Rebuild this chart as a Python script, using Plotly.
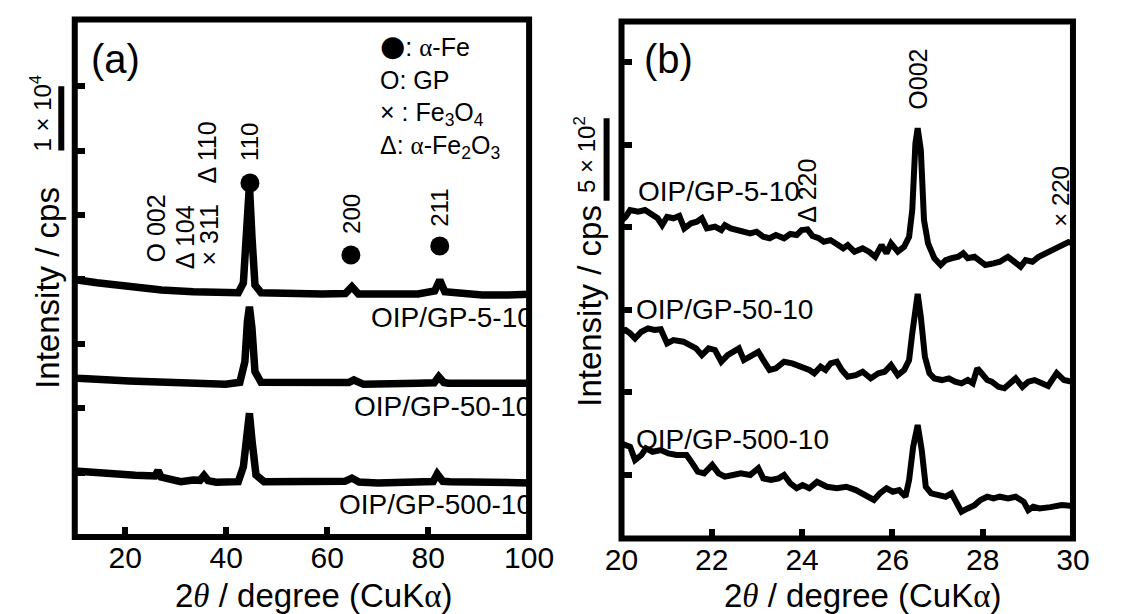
import plotly.graph_objects as go

# ---------------- (a) wide-angle XRD patterns, 2theta 10-100 deg ----------------
a_x_5_10 = [10, 10.6, 14.4, 20.8, 27.2, 33.5, 39.9, 42.4, 43.4, 44.0, 44.6, 45.1, 45.7, 46.9,
            52.6, 59.0, 63.6, 64.9, 66.2, 71.7, 78.0, 81.3, 82.3, 83.3, 90.7, 95.8, 100]
a_y_5_10 = [40060, 39910, 39490, 38870, 38350, 38090, 37840, 37940, 39440, 46630, 54660, 46630, 39130, 37940,
            37730, 37730, 37800, 38870, 37730, 37690, 37730, 38200, 39910, 38100, 37580, 37580, 37700]

a_x_50_10 = [10, 10.6, 20.8, 30.3, 39.9, 42.7, 43.7, 44.2, 44.6, 45.1, 45.7, 46.9, 55.8, 63.4,
             64.3, 65.3, 66.3, 67.2, 78.0, 81.2, 82.1, 83.1, 84.0, 95.8, 100]
a_y_50_10 = [24690, 24640, 24220, 23870, 23710, 24020, 27220, 33430, 35760, 32450, 25670, 24020, 23870, 24020,
             24000, 24380, 23900, 23710, 23870, 23950, 24890, 24000, 23870, 23870, 23870]

a_x_500_10 = [10, 12, 17.6, 22, 25.9, 26.5, 27.1, 29, 31.0, 33.5, 34.8, 35.6, 36.4, 38, 41, 42.4,
              43.4, 44.0, 44.6, 45.1, 45.9, 47.5, 52, 58, 63.5, 64.9, 66.3, 70, 76, 81.0, 81.8,
              82.9, 84.4, 90, 95.8, 100]
a_y_500_10 = [10250, 10100, 9780, 9600, 9470, 10330, 9300, 9000, 8590, 8850, 8800, 9550, 8750, 8500, 8600, 8590,
              10920, 16100, 19210, 15060, 9630, 8590, 8650, 8700, 8650, 9150, 8550, 8400, 8550, 8600, 9780,
              8650, 8590, 8450, 8340, 8400]

# alpha-Fe reflections marked with filled circles
fe_peak_x = [44.7, 64.7, 82.3]
fe_peak_y = [54970, 43790, 45190]
fe_peak_hkl = ["110", "200", "211"]
fe_label_y = [61340, 50150, 51090]

# ---------------- (b) GP 002 region, 2theta 20-30 deg ----------------
b_x_5_10 = [20.0, 20.09, 20.19, 20.37, 20.52, 20.66, 20.80, 20.90, 21.01, 21.15, 21.28, 21.39, 21.54, 21.67,
            21.78, 21.89, 22.07, 22.21, 22.29, 22.42, 22.64, 22.85, 22.99, 23.14, 23.28, 23.42, 23.60, 23.74,
            23.88, 23.99, 24.12, 24.23, 24.37, 24.48, 24.63, 24.77, 24.91, 25.01, 25.16, 25.34, 25.48, 25.62,
            25.76, 25.87, 25.97, 26.12, 26.26, 26.37, 26.44, 26.51, 26.56, 26.63, 26.70, 26.79, 26.93, 27.07,
            27.18, 27.31, 27.46, 27.57, 27.67, 27.82, 27.95, 28.06, 28.24, 28.38, 28.56, 28.70, 28.84, 28.95,
            29.10, 29.24, 29.45, 29.70, 29.90, 30.0]
b_y_5_10 = [2040, 2063, 2104, 2094, 2104, 2074, 2054, 2013, 2063, 2054, 2068, 1993, 2024, 2033,
            2054, 1993, 2003, 1983, 2013, 1993, 1979, 1963, 1973, 1942, 1933, 1953, 1933, 1959,
            1953, 1983, 1987, 1947, 1933, 1912, 1922, 1902, 1872, 1892, 1852, 1872, 1852, 1821,
            1892, 1842, 1902, 1852, 1882, 1942, 2104, 2508, 2600, 2467, 2044, 1902, 1812, 1771,
            1801, 1812, 1821, 1842, 1812, 1821, 1791, 1771, 1781, 1791, 1821, 1791, 1761, 1801,
            1791, 1821, 1850, 1880, 1910, 1904]

b_x_50_10 = [20.0, 20.09, 20.19, 20.30, 20.44, 20.59, 20.73, 20.87, 21.01, 21.15, 21.37, 21.50, 21.65, 21.78,
             21.93, 22.07, 22.21, 22.35, 22.50, 22.60, 22.71, 22.85, 23.03, 23.14, 23.28, 23.42, 23.60, 23.78,
             23.99, 24.16, 24.27, 24.41, 24.52, 24.63, 24.77, 24.88, 25.01, 25.19, 25.34, 25.52, 25.69, 25.83,
             25.97, 26.12, 26.26, 26.37, 26.44, 26.51, 26.56, 26.63, 26.72, 26.82, 26.93, 27.10, 27.25, 27.39,
             27.53, 27.67, 27.78, 27.88, 27.99, 28.10, 28.20, 28.35, 28.48, 28.63, 28.73, 28.88, 29.01, 29.15,
             29.30, 29.45, 29.64, 29.80, 30.0]
b_y_50_10 = [1370, 1378, 1358, 1327, 1367, 1388, 1378, 1382, 1297, 1317, 1307, 1287, 1267, 1226,
             1267, 1257, 1186, 1226, 1246, 1267, 1196, 1216, 1246, 1196, 1136, 1146, 1186, 1176,
             1156, 1136, 1116, 1156, 1136, 1176, 1186, 1136, 1095, 1105, 1125, 1085, 1116, 1125,
             1166, 1105, 1136, 1196, 1358, 1539, 1596, 1458, 1216, 1116, 1085, 1075, 1085, 1065,
             1055, 1075, 1055, 1146, 1116, 1075, 1065, 1034, 1025, 1065, 1085, 1034, 1065, 1075,
             1055, 1039, 1117, 1075, 1063]

b_x_500_10 = [20.0, 20.09, 20.19, 20.30, 20.44, 20.54, 20.69, 20.87, 21.04, 21.22, 21.44, 21.57, 21.69, 21.83,
              22.01, 22.15, 22.29, 22.47, 22.64, 22.85, 23.03, 23.14, 23.31, 23.48, 23.60, 23.74, 23.88, 24.01,
              24.16, 24.33, 24.55, 24.77, 24.98, 25.19, 25.41, 25.59, 25.72, 25.87, 26.01, 26.15, 26.29, 26.37,
              26.46, 26.56, 26.65, 26.74, 26.86, 27.03, 27.18, 27.31, 27.42, 27.53, 27.67, 27.82, 27.95, 28.10,
              28.24, 28.38, 28.56, 28.73, 28.91, 29.01, 29.12, 29.26, 29.50, 29.75, 30.0]
b_y_500_10 = [690, 682, 671, 591, 621, 662, 641, 651, 631, 621, 621, 571, 520, 510,
              561, 510, 490, 500, 510, 500, 541, 480, 470, 480, 500, 450, 420, 439,
              420, 459, 429, 420, 429, 409, 379, 349, 389, 420, 399, 409, 369, 470,
              671, 803, 651, 429, 389, 379, 369, 389, 329, 278, 298, 318, 349, 369,
              359, 369, 359, 369, 338, 288, 308, 298, 306, 318, 312]

sample_names = ["OIP/GP-5-10", "OIP/GP-50-10", "OIP/GP-500-10"]

a_xticks = [20, 40, 60, 80, 100]
a_yticks = [10000, 20000, 30000, 40000, 50000, 60000, 70000]
b_xticks = [20, 22, 24, 26, 28, 30]
b_yticks = [500, 1000, 1500, 2000, 2500, 3000]

W, H = 1123, 614
SANS = "Liberation Sans, Arial, sans-serif"
SERIF = "Liberation Serif, Times New Roman, serif"
BLACK = "#000000"


def px(v):
    return v / W


def py(v):
    return 1 - v / H


fig = go.Figure()

for xs, ys in [(a_x_5_10, a_y_5_10), (a_x_50_10, a_y_50_10), (a_x_500_10, a_y_500_10)]:
    fig.add_trace(go.Scatter(x=xs, y=ys, mode="lines", line=dict(color=BLACK, width=7.5),
                             xaxis="x", yaxis="y", showlegend=False, hoverinfo="skip"))

fig.add_trace(go.Scatter(x=fe_peak_x, y=fe_peak_y, mode="markers",
                         marker=dict(symbol="circle", size=19, color=BLACK),
                         xaxis="x", yaxis="y", showlegend=False, hoverinfo="skip"))

for xs, ys in [(b_x_5_10, b_y_5_10), (b_x_50_10, b_y_50_10), (b_x_500_10, b_y_500_10)]:
    fig.add_trace(go.Scatter(x=xs, y=ys, mode="lines", line=dict(color=BLACK, width=6),
                             xaxis="x2", yaxis="y2", showlegend=False, hoverinfo="skip"))

axis_common = dict(showgrid=False, zeroline=False, showline=False, ticks="inside",
                   ticklen=10, tickwidth=6, tickcolor=BLACK)

fig.update_layout(
    width=W, height=H,
    margin=dict(l=0, r=0, t=0, b=0),
    paper_bgcolor="white", plot_bgcolor="white",
    font=dict(family=SANS, color=BLACK),
    xaxis=dict(domain=[px(60), px(532)], range=[10, 100], tickvals=a_xticks,
               tickfont=dict(family=SANS, size=30, color=BLACK), anchor="y", **axis_common),
    yaxis=dict(domain=[py(537), py(19.5)], range=[0, 80357], tickvals=a_yticks,
               showticklabels=False, anchor="x", **axis_common),
    xaxis2=dict(domain=[px(628), px(1097)], range=[20, 30], tickvals=b_xticks,
                tickfont=dict(family=SANS, size=30, color=BLACK), anchor="y2", **axis_common),
    yaxis2=dict(domain=[py(538.5), py(21.5)], range=[116, 3245], tickvals=b_yticks,
                showticklabels=False, anchor="x2", **axis_common),
)

# frames around both panels
for xr, yr in [("x", "y"), ("x2", "y2")]:
    fig.add_shape(type="rect", xref=f"{xr} domain", yref=f"{yr} domain", x0=0, x1=1, y0=0, y1=1,
                  line=dict(color=BLACK, width=6), layer="above")

# intensity scale bars
fig.add_shape(type="line", xref="paper", yref="y", x0=px(46), x1=px(46), y0=60000, y1=70000,
              line=dict(color=BLACK, width=6))
fig.add_shape(type="line", xref="paper", yref="y2", x0=px(612.5), x1=px(612.5), y0=2160, y1=2660,
              line=dict(color=BLACK, width=6))

ann = []


def text(x, y, s, size, xref="x", yref="y", angle=0, xanchor="center", yanchor="middle", family=SANS):
    ann.append(dict(x=x, y=y, xref=xref, yref=yref, text=s, showarrow=False, textangle=angle,
                    xanchor=xanchor, yanchor=yanchor, font=dict(family=family, size=size, color=BLACK)))


alpha = f"<span style=\"font-family:{SERIF}\">α</span>"
theta = f"<span style=\"font-family:{SERIF}\"><i>θ</i></span>"
dot = "<span style=\"font-family:DejaVu Sans;font-size:29px\">●</span>"

# panel tags
text(18.0, 74220, "(a)", 40)
text(21.03, 3018, "(b)", 40, xref="x2", yref="y2")

# phase key of panel (a)
key_rows = [f"{dot}: {alpha}-Fe", "O: GP", "× : Fe<sub>3</sub>O<sub>4</sub>",
            f"Δ: {alpha}-Fe<sub>2</sub>O<sub>3</sub>"]
ann.append(dict(x=70.1, y=68500, xref="x", yref="y", text="<br>".join(key_rows), showarrow=False,
                xanchor="left", yanchor="middle", align="left",
                font=dict(family=SANS, size=25, color=BLACK)))

# reflection labels, panel (a)
for xv, yv, hkl in zip(fe_peak_x, fe_label_y, fe_peak_hkl):
    text(xv, yv, hkl, 24, angle=-90)
text(26.0, 47830, "O 002", 25, angle=-90)
text(31.9, 46580, "Δ 104", 25, angle=-90)
text(36.5, 46890, "× 311", 25, angle=-90)
text(36.1, 59630, "Δ 110", 25, angle=-90)

# reflection labels, panel (b)
text(26.56, 2897, "O002", 25, xref="x2", yref="y2", angle=-90)
text(24.1, 2219, "Δ 220", 25, xref="x2", yref="y2", angle=-90)
text(29.73, 2189, "× 220", 24, xref="x2", yref="y2", angle=-90)

# sample names
for (xa, ya), name in zip([(68.35, 34160), (64.9, 20190), (61.9, 4970)], sample_names):
    text(xa, ya, name, 28, xanchor="left")
for (xb, yb), name in zip([(20.31, 2219), (20.27, 1505), (20.27, 718)], sample_names):
    text(xb, yb, name, 28, xref="x2", yref="y2", xanchor="left")

# scale bar captions
text(px(24.5), 65840, "1 × 10<sup>4</sup>", 24, xref="paper", yref="y", angle=-90)
text(px(590), 2443, "5 × 10<sup>2</sup>", 24, xref="paper", yref="y2", angle=-90)

# axis titles
xtitle = f"2{theta} / degree (CuK{alpha})"
text(px(309), py(595), xtitle, 33, xref="paper", yref="paper")
text(px(878.5), py(595), xtitle, 33, xref="paper", yref="paper")
text(px(31), py(288), "Intensity / cps", 33, xref="paper", yref="paper", angle=-90)
text(px(594), py(306), "Intensity / cps", 33, xref="paper", yref="paper", angle=-90)

fig.update_layout(annotations=ann)

fig.write_html("out.html", config={"displayModeBar": False})
